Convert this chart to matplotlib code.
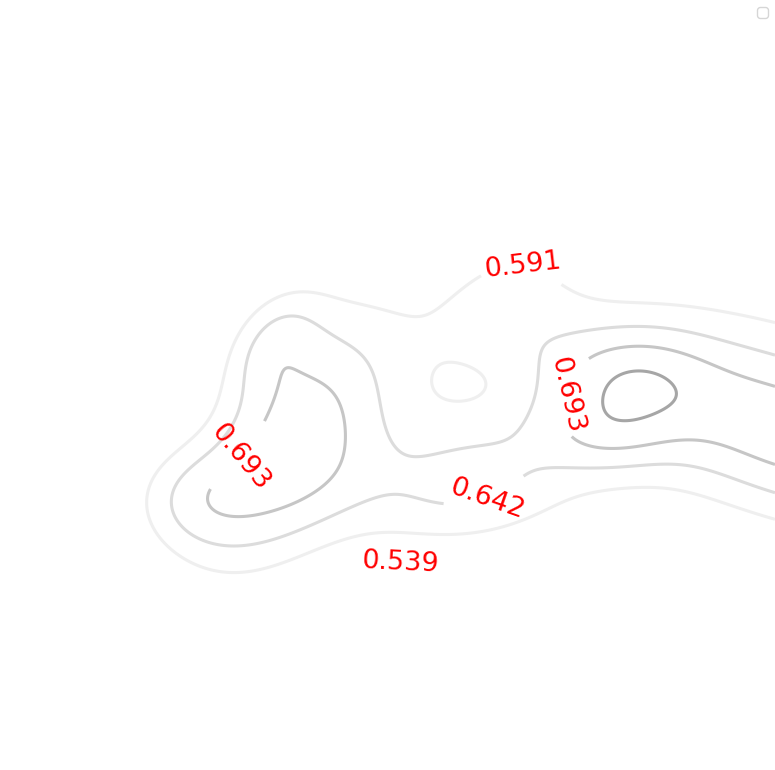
import numpy as np
import matplotlib.pyplot as plt

# contour levels and their grey shades
levels = [0.539, 0.591, 0.642, 0.693, 0.745]
level_colors = ['#ffffff', '#efefef', '#dcdcdc', '#c6c6c6', '#a6a6a6']

# surface made of gaussian bumps: amplitude, centre, spread, angle (deg)
base_level = 0.4841
bump_amp = [0.2257, 0.0979, 0.1147, 0.1629, 0.0819, 0.0909, 0.1334, -0.0400, 0.0549, 0.0926]
bump_cx = [295.9, 183.7, 620.6, 798.7, 783.0, 497.4, 463.9, 484.6, 600.2, 270.3]
bump_cy = [438.1, 499.6, 384.0, 439.1, 390.2, 331.3, 490.6, 382.0, 437.9, 337.4]
bump_sx = [61.1, 47.8, 57.7, 159.0, 191.6, 54.6, 97.0, 44.2, 46.9, 45.4]
bump_sy = [111.0, 42.5, 41.1, 60.2, 116.2, 97.4, 48.6, 31.0, 27.9, 30.6]
bump_ang = [31.4, 2.8, -6.2, 19.3, 10.1, 18.4, -6.2, -2.4, 3.0, -54.4]

# where the labels sit, per level
label_spots = {
    0.539: [(400, 565)],
    0.591: [(523, 263)],
    0.642: [(487, 500)],
    0.693: [(240, 457), (567, 395)],
    0.745: [],
}

x = np.linspace(0, 775, 500)
y = np.linspace(0, 770, 500)
X, Y = np.meshgrid(x, y)
Z = np.full_like(X, base_level)
for a, cx, cy, sx, sy, ang in zip(bump_amp, bump_cx, bump_cy, bump_sx, bump_sy, bump_ang):
    t = np.deg2rad(ang)
    u = (X - cx) * np.cos(t) + (Y - cy) * np.sin(t)
    v = -(X - cx) * np.sin(t) + (Y - cy) * np.cos(t)
    Z += a * np.exp(-0.5 * (u**2 / sx**2 + v**2 / sy**2))

fig = plt.figure(figsize=(7.75, 7.7), dpi=100)
ax = fig.add_axes([0, 0, 1, 1])
for lev, col in zip(levels, level_colors):
    cs = ax.contour(X, Y, Z, levels=[lev], colors=[col], linewidths=2.2)
    if label_spots[lev]:
        ax.clabel(cs, fmt='%.3f', colors='red', fontsize=19.5, manual=label_spots[lev])

ax.set_xlim(0, 775)
ax.set_ylim(770, 0)
ax.axis('off')
ax.legend(loc='upper right')
fig.savefig('out.png', dpi=100)
